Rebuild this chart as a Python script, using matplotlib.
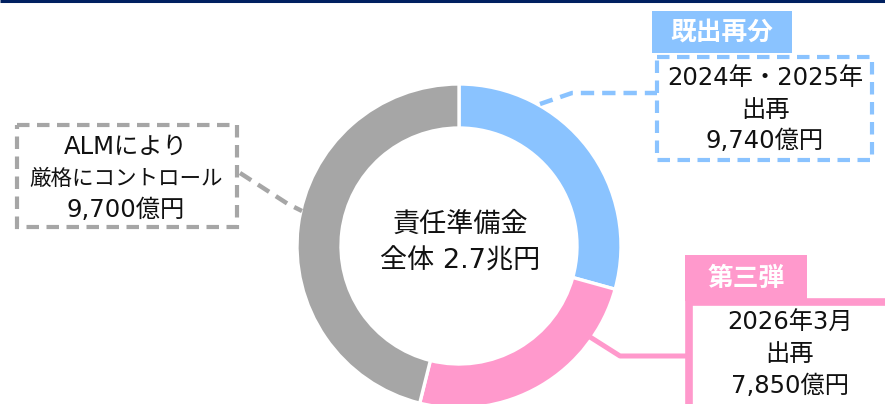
"""Donut chart of policy reserves (責任準備金) with callout boxes."""

import matplotlib.pyplot as plt
from matplotlib.patches import Rectangle

# wide latin (close to the original's look), CJK falls back to Noto
plt.rcParams['font.family'] = ['DejaVu Sans', 'Noto Sans CJK JP']

W, H = 885, 404

# segments clockwise from the top
segments = ['既出再分', '第三弾', 'ALM']
amounts_oku = [9740, 7850, 9700]            # 億円
drawn_share = [29.3, 24.6, 46.1]            # share of the ring as drawn (%)
colors = ['#8AC3FF', '#FF99CC', '#A6A6A6']

center_lines = ['責任準備金', '全体 2.7兆円']
blue_lines = ['2024年・2025年', '出再', f'{amounts_oku[0]:,}億円']
pink_lines = ['2026年3月', '出再', f'{amounts_oku[1]:,}億円']
gray_lines = ['ALMにより', '厳格にコントロール', f'{amounts_oku[2]:,}億円']

NAVY = '#002060'


def put_lines(ax, x, ys, lines, sizes):
    for y, line, size in zip(ys, lines, sizes):
        ax.text(x, y, line, fontsize=size, ha='center', va='center', color='#111111')


fig = plt.figure(figsize=(W / 100, H / 100), dpi=100)
ax = fig.add_axes([0, 0, 1, 1])

# axes in pixel units, y pointing down; so start at -90 and go "counterclock"
# which reads as clockwise from the top on screen
ax.pie(drawn_share, colors=colors, startangle=-90, counterclock=True,
       center=(459, 246), radius=162,
       wedgeprops=dict(width=44, edgecolor='white', linewidth=2.4))
ax.set_xlim(0, W)
ax.set_ylim(H, 0)
ax.axis('off')

# top rule
ax.plot([0, W], [1, 1], color=NAVY, lw=2.2, solid_capstyle='butt')

dash = (0, (3, 1.8))
fs = 17.5

# blue callout
ax.add_patch(Rectangle((652, 11), 140, 42, facecolor=colors[0], edgecolor='none'))
ax.text(722, 32, segments[0], color='white', fontsize=18.5, fontweight='bold',
        family='Noto Sans CJK JP', ha='center', va='center')
ax.add_patch(Rectangle((657, 57), 215, 103, facecolor='white', edgecolor=colors[0],
                       lw=3.0, linestyle=dash))
ax.plot([540, 572, 657], [104, 93, 93], color=colors[0], lw=3.2,
        linestyle=dash, dash_capstyle='butt')
put_lines(ax, 765, [78, 110, 141], blue_lines, [fs, fs, fs])

# gray callout
ax.add_patch(Rectangle((17, 125), 220, 102, facecolor='white', edgecolor=colors[2],
                       lw=3.0, linestyle=dash))
ax.plot([240, 288, 302], [173, 204, 211], color=colors[2], lw=3.2,
        linestyle=dash, dash_capstyle='butt')
put_lines(ax, 126, [147, 179, 210], gray_lines, [fs, 15.5, fs])

# pink callout
ax.add_patch(Rectangle((685, 255), 122, 46, facecolor=colors[1], edgecolor='none'))
ax.text(746, 278, segments[1], color='white', fontsize=18.5, fontweight='bold',
        family='Noto Sans CJK JP', ha='center', va='center')
ax.add_patch(Rectangle((689, 302), 260, 150, facecolor='white', edgecolor=colors[1],
                       lw=5.5))
ax.plot([590, 620, 689], [337, 356, 356], color=colors[1], lw=3.6,
        solid_capstyle='butt')
put_lines(ax, 790, [323, 354, 386], pink_lines, [fs, fs, fs])

# centre label
put_lines(ax, 460, [225, 261], center_lines, [19.5, 19.5])

fig.savefig('out.png', dpi=100)
